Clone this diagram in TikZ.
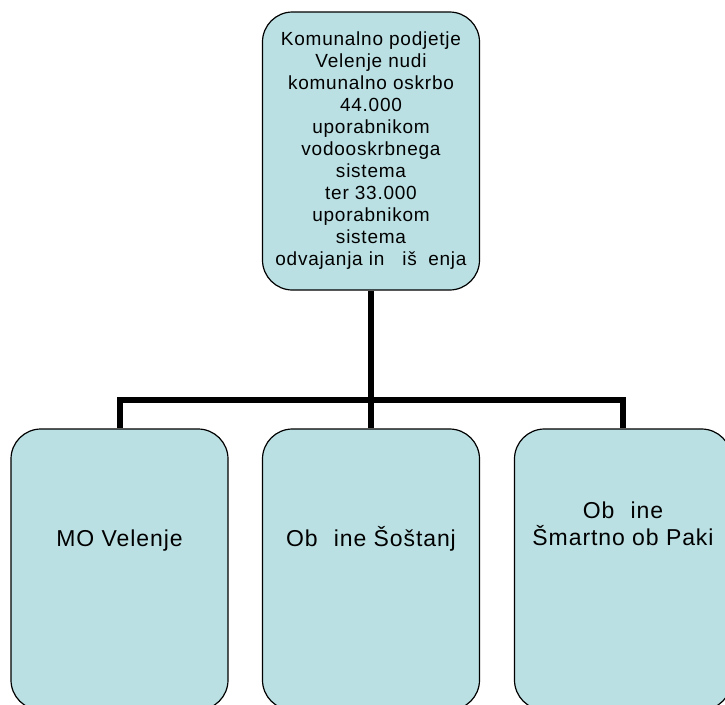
\documentclass[tikz,border=0pt]{standalone}
\usepackage{fontspec}
\setmainfont{Liberation Sans}
\newfontfamily\boxfont[LetterSpace=4]{Liberation Sans}
\usetikzlibrary{positioning}
\definecolor{boxfill}{RGB}{187,224,227}
\tikzstyle{unit} = [rectangle, draw, fill=boxfill, line width=1.2pt, rounded corners=30pt, minimum width=217pt, inner sep=0pt]
\tikzstyle{toptext} = [font=\boxfont\fontsize{19}{22}\selectfont, align=center]
\tikzstyle{subtext} = [font=\boxfont\fontsize{23}{27}\selectfont, align=center, inner sep=0pt]
\tikzstyle{link} = [line width=6pt]

\begin{document}
\begin{tikzpicture}[x=1pt, y=-1pt]
  \useasboundingbox (0,0) rectangle (725,704);
  \clip (0,0) rectangle (725,704);

  % Company
  \node[unit, minimum height=278pt, toptext] (kpv) at (371,151)
    {Komunalno podjetje\\Velenje nudi\\komunalno oskrbo\\44.000\\uporabnikom\\vodooskrbnega\\sistema\\ter 33.000\\uporabnikom\\sistema\\odvajanja in\hspace{0.95em}iš\hspace{0.6em}enja};

  % Municipalities
  \node[unit, minimum height=281pt] (mo) at (119.5,569.5) {};
  \node[unit, minimum height=281pt] (sostanj) at (371,569.5) {};
  \node[unit, minimum height=281pt] (smartno) at (623,569.5) {};

  \node[subtext, anchor=base] (moText) at (119.5,546.7) {MO Velenje};
  \node[subtext, anchor=base] (sostanjText) at (371,546.7) {Ob\hspace{0.7em}ine Šoštanj};
  \node[subtext, anchor=north] (smartnoText) at (623,501.5) {Ob\hspace{0.7em}ine\\Šmartno ob Paki};

  % Connectors
  \coordinate (bus) at (371,400);
  \draw[link] (kpv.south) -- (bus);
  \draw[link] (bus) -| (mo.north);
  \draw[link] (bus) -| (smartno.north);
  \draw[link] (bus) -- (sostanj.north);
\end{tikzpicture}
\end{document}
